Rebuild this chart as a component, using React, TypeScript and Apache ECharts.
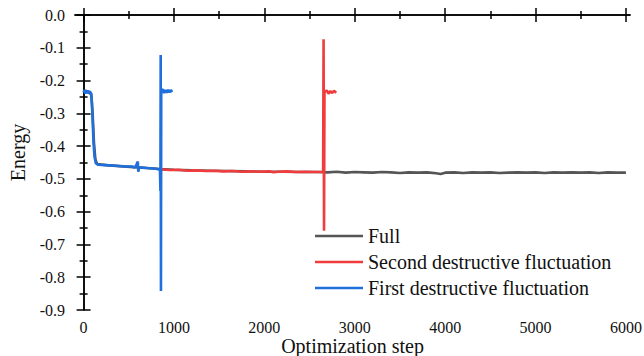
import React, { useEffect, useRef } from 'react';
import * as echarts from 'echarts';

const xMajorTicks = [0, 1000, 2000, 3000, 4000, 5000, 6000];
const xMinorTicks = [500, 1500, 2500, 3500, 4500, 5500];
const seriesNames = ['Full', 'Second destructive fluctuation', 'First destructive fluctuation'];
const seriesColors = ['#555555', '#F03C3C', '#1F6FDC'];

const fullData: [number, number][] = [
  [0, -0.236], [30, -0.231], [60, -0.238], [85, -0.240], [100, -0.30], [115, -0.39], [130, -0.44], [150, -0.455],
  [250, -0.458], [400, -0.461], [550, -0.464], [700, -0.467], [850, -0.470], [1000, -0.472], [1200, -0.474],
  [1400, -0.475], [1600, -0.476], [1800, -0.477], [2000, -0.478], [2200, -0.478], [2400, -0.479], [2600, -0.479],
  [2700, -0.480], [2800, -0.478], [2900, -0.481], [3000, -0.479], [3100, -0.480], [3200, -0.481], [3300, -0.479],
  [3400, -0.480], [3500, -0.482], [3600, -0.480], [3700, -0.481], [3800, -0.480], [3900, -0.483], [3950, -0.485],
  [4000, -0.481], [4100, -0.480], [4200, -0.482], [4300, -0.480], [4400, -0.481], [4500, -0.480], [4600, -0.482],
  [4700, -0.481], [4800, -0.480], [4900, -0.481], [5000, -0.480], [5100, -0.482], [5200, -0.480], [5300, -0.481],
  [5400, -0.480], [5500, -0.481], [5600, -0.480], [5700, -0.482], [5800, -0.480], [5900, -0.481], [6000, -0.481],
];

const secondData: [number, number][] = [
  [860, -0.471], [950, -0.473], [1050, -0.472], [1150, -0.475], [1250, -0.474], [1350, -0.476], [1450, -0.475],
  [1550, -0.477], [1650, -0.476], [1750, -0.478], [1850, -0.477], [1950, -0.478], [2050, -0.477], [2100, -0.480],
  [2150, -0.478], [2250, -0.477], [2350, -0.479], [2450, -0.478], [2550, -0.479], [2650, -0.478],
  [2655, -0.074], [2660, -0.658], [2665, -0.236], [2690, -0.230], [2710, -0.240], [2730, -0.232], [2750, -0.238],
  [2770, -0.231], [2795, -0.237],
];

const firstData: [number, number][] = [
  [0, -0.236], [10, -0.229], [20, -0.240], [30, -0.231], [40, -0.239], [50, -0.230], [60, -0.238], [70, -0.233],
  [80, -0.238], [90, -0.26], [100, -0.32], [110, -0.39], [120, -0.43], [135, -0.452], [160, -0.457], [250, -0.458],
  [350, -0.460], [450, -0.462], [540, -0.462], [560, -0.466], [580, -0.460], [600, -0.447], [605, -0.478],
  [615, -0.465], [700, -0.467], [800, -0.469], [845, -0.472], [850, -0.537], [853, -0.122], [856, -0.842],
  [859, -0.232], [875, -0.226], [890, -0.238], [905, -0.229], [920, -0.237], [935, -0.228], [950, -0.236],
  [965, -0.229], [980, -0.235],
];

const FONT = "'Liberation Serif', 'Times New Roman', serif";
const XMIN = -95;
const XMAX = 6045;

export default function App() {
  const ref = useRef<HTMLDivElement>(null);
  useEffect(() => {
    const chart = echarts.init(ref.current!, null, { renderer: 'svg' });
    const axisLine = { show: true, lineStyle: { color: '#000', width: 1.5 } };
    const majorTick = (values?: number[]) => ({
      show: true, inside: true, length: 7, lineStyle: { color: '#000', width: 1.5 },
      ...(values ? { customValues: values } : {}),
    });
    const minorTickAxis = (position: string) => ({
      type: 'value', position, min: XMIN, max: XMAX,
      axisLine: { show: false },
      axisTick: { show: true, inside: true, length: 4, customValues: xMinorTicks, lineStyle: { color: '#000', width: 1.5 } },
      axisLabel: { show: false },
      splitLine: { show: false },
    });
    const option: any = {
      animation: false,
      backgroundColor: '#fff',
      textStyle: { fontFamily: FONT },
      grid: { left: 75, right: 14, top: 15, bottom: 46, containLabel: false, outerBoundsMode: 'none' },
      legend: {
        data: seriesNames,
        orient: 'vertical',
        left: 310,
        top: 218,
        icon: 'rect',
        itemWidth: 48,
        itemHeight: 2.5,
        itemGap: 0,
        textStyle: { fontFamily: FONT, fontSize: 20, color: '#111', lineHeight: 26 },
      },
      xAxis: [
        {
          type: 'value', position: 'bottom', min: XMIN, max: XMAX,
          axisLine,
          axisTick: majorTick(xMajorTicks),
          axisLabel: {
            customValues: xMajorTicks, fontFamily: FONT, fontSize: 16, color: '#111', margin: 9,
            formatter: (v: number) => String(Math.round(v)),
          },
          splitLine: { show: false },
          name: 'Optimization step', nameLocation: 'middle', nameGap: 26, nameMoveOverlap: false,
          nameTextStyle: { fontFamily: FONT, fontSize: 20, color: '#111' },
        },
        minorTickAxis('bottom'),
        {
          type: 'value', position: 'top', min: XMIN, max: XMAX,
          axisLine,
          axisTick: majorTick(xMajorTicks),
          axisLabel: { show: false },
          splitLine: { show: false },
        },
        minorTickAxis('top'),
      ],
      yAxis: [
        {
          type: 'value', position: 'left', min: -0.9, max: 0, interval: 0.1,
          axisLine,
          axisTick: majorTick(),
          minorTick: { show: true, splitNumber: 2, length: 4, lineStyle: { color: '#000', width: 1.5 } },
          axisLabel: {
            fontFamily: FONT, fontSize: 16, color: '#111', margin: 10,
            formatter: (v: number) => (Math.abs(v) < 1e-9 ? '0.0' : v.toFixed(1)),
          },
          splitLine: { show: false },
          minorSplitLine: { show: false },
          name: 'Energy', nameLocation: 'middle', nameGap: 47, nameMoveOverlap: false,
          nameTextStyle: { fontFamily: FONT, fontSize: 20, color: '#111', padding: [0, 0, 0, 20] },
        },
        {
          type: 'value', position: 'right', min: -0.9, max: 0, interval: 0.1,
          axisLine,
          axisTick: majorTick(),
          minorTick: { show: true, splitNumber: 2, length: 4, lineStyle: { color: '#000', width: 1.5 } },
          axisLabel: { show: false },
          splitLine: { show: false },
          minorSplitLine: { show: false },
        },
      ],
      series: [
        { name: seriesNames[0], type: 'line', data: fullData, color: seriesColors[0] },
        { name: seriesNames[1], type: 'line', data: secondData, color: seriesColors[1] },
        { name: seriesNames[2], type: 'line', data: firstData, color: seriesColors[2] },
      ].map((s) => ({
        ...s,
        xAxisIndex: 0,
        yAxisIndex: 0,
        symbol: 'none',
        showSymbol: false,
        lineStyle: { width: 2.6, color: s.color },
        itemStyle: { color: s.color },
      })),
    };
    chart.setOption(option);
    return () => chart.dispose();
  }, []);
  return <div ref={ref} style={{ position: 'absolute', left: 0, top: 0, width: 644, height: 356 }} />;
}
